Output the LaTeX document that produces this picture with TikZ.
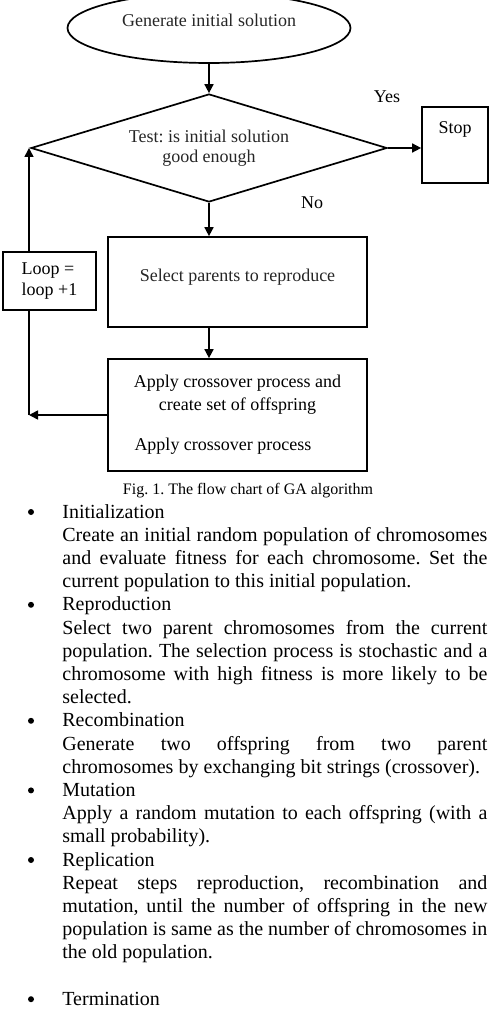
\documentclass[tikz,border=0pt]{standalone}
\usepackage{fontspec}
\setmainfont{Liberation Serif}
\usetikzlibrary{positioning,arrows.meta,shapes.geometric}
\frenchspacing

\begin{document}
\begin{tikzpicture}[
  x=0.5pt, y=-0.5pt,
  box/.style={rectangle, draw=black, line width=0.85pt, inner sep=2pt, align=center,
              font=\fontsize{9}{11.5}\selectfont},
  arrow/.style={-{Triangle[length=4.5pt,width=4.5pt]}, line width=0.8pt},
  note/.style={font=\fontsize{9}{11}\selectfont},
  para/.style={anchor=base west, inner sep=0pt, text width=212.5pt, align=justify,
               font=\fontsize{10}{11.6}\selectfont},
  bulletmark/.style={circle, fill=black, inner sep=0pt, minimum size=3pt}
]
\useasboundingbox (0,0) rectangle (491,1010);

% Flow chart
\node[box, ellipse, minimum width=141.5pt, minimum height=35pt, text depth=8pt, text=black!85] (start) at (209,28) {Generate initial solution};
\node[box, diamond, aspect=3.3, inner sep=0pt, minimum width=178pt, minimum height=54pt,
      font=\fontsize{9}{10}\selectfont, text=black!85] (test) at (209,148) {Test: is initial solution\\good enough};
\node[box, minimum width=33pt, minimum height=38pt, text depth=17pt] (stop) at (455,145) {Stop};
\node[box, minimum width=129.5pt, minimum height=45pt, text depth=7pt, text=black!85] (select) at (237.5,282) {Select parents to reproduce};
\node[box, minimum width=129.5pt, minimum height=56pt] (apply) at (237.5,415)
  {Apply crossover process and\\create set of offspring\\[8.5pt]\makebox[103pt][l]{Apply crossover process}};
\node[box, minimum width=46.5pt, minimum height=29pt, align=left, font=\fontsize{9}{10.5}\selectfont] (loop) at (49.5,281) {Loop =\\loop +1};
\coordinate (back) at (29,415);

% Branch labels
\node[note] (yes) at (387,97) {Yes};
\node[note] (no) at (312,203) {No};

% Arrows
\draw[arrow] (start) -- (test);
\draw[arrow] (test.east) -- (test.east -| stop.west);
\draw[arrow] (test.south) -- (test.south |- select.north);
\draw[arrow] (select.south -| test.south) -- (test.south |- apply.north);
\draw[arrow] (apply.west) -- (back);
\draw[line width=0.8pt] (back) -- (back |- loop.south);
\draw[arrow] (back |- loop.north) -- (back |- test.west);

% Caption
\node[font=\fontsize{8}{9.6}\selectfont] (caption) at (248,491) {Fig. 1. The flow chart of GA algorithm};

% Steps
\node[bulletmark] (b1) at (31,512) {};
\node[para] (init) at (62,518) {Initialization\\
  Create an initial random population of chromosomes\linebreak
  and evaluate fitness for each chromosome. Set the\linebreak
  current population to this initial population.};
\node[bulletmark] (b2) at (31,604.8) {};
\node[para] (repro) at (62,610.8) {Reproduction\\
  Select two parent chromosomes from the current\linebreak
  population. The selection process is stochastic and a\linebreak
  chromosome with high fitness is more likely to be\linebreak
  selected.};
\node[bulletmark] (b3) at (31,720.8) {};
\node[para] (recomb) at (62,726.8) {Recombination\\
  Generate two offspring from two parent\linebreak
  chromosomes by exchanging bit strings (crossover).};
\node[bulletmark] (b4) at (31,790.4) {};
\node[para] (mut) at (62,796.4) {Mutation\\
  Apply a random mutation to each offspring (with a\linebreak
  small probability).};
\node[bulletmark] (b5) at (31,860) {};
\node[para] (repl) at (62,866) {Replication\\
  Repeat steps reproduction, recombination and\linebreak
  mutation, until the number of offspring in the new\linebreak
  population is same as the number of chromosomes in\linebreak
  the old population.};
\node[bulletmark] (b6) at (31,999.2) {};
\node[para] (term) at (62,1005.2) {Termination};
\end{tikzpicture}
\end{document}
